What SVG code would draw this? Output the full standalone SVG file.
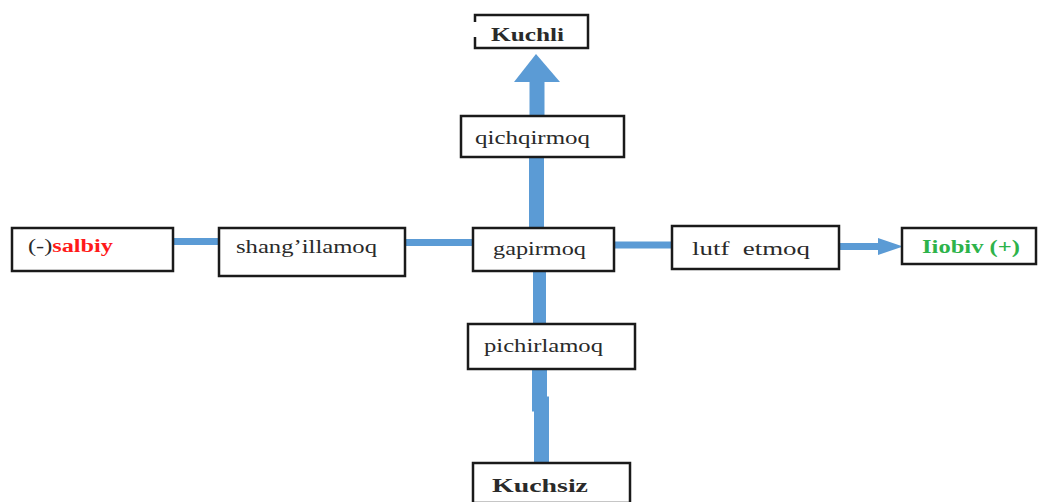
<svg xmlns="http://www.w3.org/2000/svg" width="1041" height="502" viewBox="0 0 1041 502">
<style>
.box{fill:#fff;stroke:#1a1a1a;stroke-width:2.5}
.t{font-family:"Liberation Serif","Times New Roman",serif;font-size:18px;fill:#2a2a2a}
.b{font-weight:bold}
.ln{stroke:#5b9bd5;fill:none}
.hd{fill:#5b9bd5}
</style>
<rect width="1041" height="502" fill="#fff"/>
<g id="connectors">
<line class="ln" x1="537" y1="116" x2="537" y2="80" stroke-width="15"/>
<polygon class="hd" points="514,82 560,82 536,54"/>
<line class="ln" x1="536.5" y1="157" x2="536.5" y2="228" stroke-width="15"/>
<line class="ln" x1="173" y1="241.5" x2="219" y2="241.5" stroke-width="7"/>
<line class="ln" x1="405" y1="242.5" x2="473" y2="242.5" stroke-width="7"/>
<line class="ln" x1="614" y1="245" x2="672" y2="245" stroke-width="7"/>
<line class="ln" x1="839" y1="246.5" x2="880" y2="246.5" stroke-width="7"/>
<polygon class="hd" points="878,238 903,246.5 878,255"/>
<line class="ln" x1="539.5" y1="271" x2="539.5" y2="324" stroke-width="13"/>
<polyline class="ln" points="539.5,369 539.5,404 541.5,404 541.5,463" stroke-width="15" stroke-linejoin="miter"/>
</g>
<g id="kuchli">
<rect x="475" y="15" width="113" height="33" fill="#fff"/>
<path d="M475,22 V15 H588 V48 H475 V37" fill="none" stroke="#1a1a1a" stroke-width="2.5"/>
<text class="t b" x="491" y="41" font-size="21" textLength="73" lengthAdjust="spacingAndGlyphs">Kuchli</text>
</g>
<g id="qichqirmoq">
<rect class="box" x="461" y="116" width="163" height="41"/>
<text class="t" x="475" y="144" textLength="115" lengthAdjust="spacingAndGlyphs">qichqirmoq</text>
</g>
<g id="salbiy">
<rect class="box" x="12" y="228" width="161" height="43"/>
<text class="t" x="28" y="252" textLength="85" lengthAdjust="spacingAndGlyphs">(-)<tspan class="b" style="fill:#ff1a1a">salbiy</tspan></text>
</g>
<g id="shangillamoq">
<rect class="box" x="219" y="228" width="186" height="48"/>
<text class="t" x="236" y="253" textLength="141" lengthAdjust="spacingAndGlyphs">shang’illamoq</text>
</g>
<g id="gapirmoq">
<rect class="box" x="473" y="228" width="141" height="43"/>
<text class="t" x="493" y="255" textLength="93" lengthAdjust="spacingAndGlyphs">gapirmoq</text>
</g>
<g id="lutf">
<rect class="box" x="672" y="226" width="167" height="43"/>
<text class="t" x="692" y="255" textLength="118" lengthAdjust="spacingAndGlyphs" xml:space="preserve">lutf  etmoq</text>
</g>
<g id="ijobiy">
<rect class="box" x="902" y="228" width="134" height="36"/>
<text class="t b" x="922" y="253" style="fill:#2db34a" textLength="98" lengthAdjust="spacingAndGlyphs">Iiobiv (+)</text>
</g>
<g id="pichirlamoq">
<rect class="box" x="468" y="324" width="167" height="45"/>
<text class="t" x="484" y="352" textLength="119" lengthAdjust="spacingAndGlyphs">pichirlamoq</text>
</g>
<g id="kuchsiz">
<rect class="box" x="473" y="463" width="157" height="40"/>
<text class="t b" x="492" y="492" font-size="21" textLength="96" lengthAdjust="spacingAndGlyphs">Kuchsiz</text>
</g>
</svg>
